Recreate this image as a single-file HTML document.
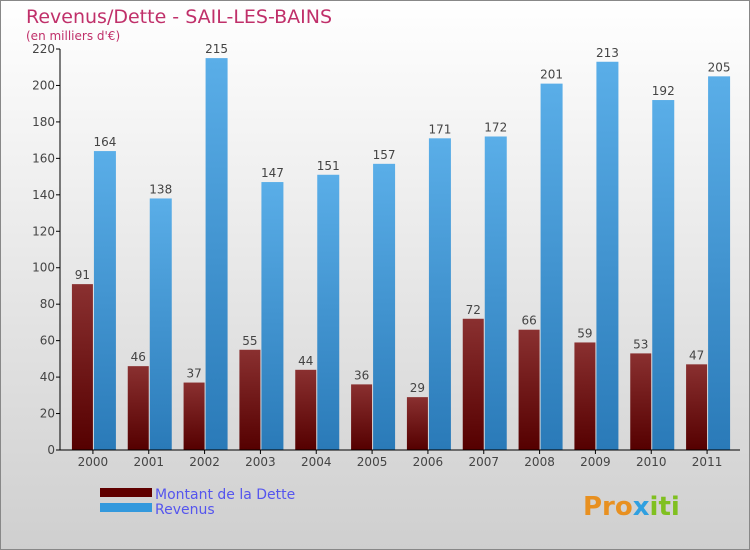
<!DOCTYPE html>
<html><head><meta charset="utf-8"><style>
body{margin:0;}
#wrap{width:750px;height:550px;position:relative;overflow:hidden;font-family:"DejaVu Sans","Liberation Sans",sans-serif;}
svg text{font-family:"DejaVu Sans","Liberation Sans",sans-serif;}
</style></head><body>
<div id="wrap">
<svg id="chart" width="750" height="550">
<defs>
<linearGradient id="bg" x1="0" y1="0" x2="0" y2="1"><stop offset="0" stop-color="#ffffff"/><stop offset="1" stop-color="#cfcfcf"/></linearGradient>
<linearGradient id="gd" x1="0" y1="0" x2="0" y2="1"><stop offset="0" stop-color="#8a3030"/><stop offset="1" stop-color="#550000"/></linearGradient>
<linearGradient id="gr" x1="0" y1="0" x2="0" y2="1"><stop offset="0" stop-color="#5aaee8"/><stop offset="1" stop-color="#2a7ab8"/></linearGradient>
</defs>
<rect x="0.5" y="0.5" width="749" height="549" fill="url(#bg)" stroke="#888"/>
<text x="26" y="23" font-size="19" fill="#c0306a">Revenus/Dette - SAIL-LES-BAINS</text>
<text x="26" y="40" font-size="12" fill="#c0306a">(en milliers d'€)</text>
<g id="bars"></g>
<g id="axes"></g>
<rect x="100" y="488" width="52" height="9" fill="#600000"/>
<rect x="100" y="503" width="52" height="9" fill="#3399dd"/>
<text x="155" y="499" font-size="14" fill="#5555ee">Montant de la Dette</text>
<text x="155" y="514" font-size="14" fill="#5555ee">Revenus</text>
<text x="583" y="515" font-size="26" font-weight="bold" fill="#e89020">Pro<tspan fill="#30a0e0">x</tspan><tspan fill="#80c020">iti</tspan></text>
</svg>
</div>
<script>
const years=["2000","2001","2002","2003","2004","2005","2006","2007","2008","2009","2010","2011"];
const dette=[91,46,37,55,44,36,29,72,66,59,53,47];
const revenus=[164,138,215,147,151,157,171,172,201,213,192,205];
const yTicks=[0,20,40,60,80,100,120,140,160,180,200,220];
const NS="http://www.w3.org/2000/svg";
const x0=60,x1=740,y0=450,yTop=49,yMax=220;
const y=v=>y0-(v/yMax)*(y0-yTop);
const step=(x1-x0-10)/years.length;
const cx=i=>x0+5+step*(i+0.5);
function mk(t,a,p){const e=document.createElementNS(NS,t);for(const k in a)e.setAttribute(k,a[k]);p.appendChild(e);return e;}
const bars=document.getElementById('bars'),axes=document.getElementById('axes');
years.forEach((yr,i)=>{
 const c=cx(i);
 let r=mk('rect',{x:c-21,y:y(dette[i]),width:21,height:y0-y(dette[i]),fill:'url(#gd)'},bars);
 
 
 let t=mk('text',{x:c-10.5,y:y(dette[i])-5,'font-size':12,fill:'#444','text-anchor':'middle'},bars);t.textContent=dette[i];
 
 
 r=mk('rect',{x:c+1,y:y(revenus[i]),width:22,height:y0-y(revenus[i]),fill:'url(#gr)'},bars);
 
 
 t=mk('text',{x:c+12,y:y(revenus[i])-5,'font-size':12,fill:'#444','text-anchor':'middle'},bars);t.textContent=revenus[i];
 
 
 t=mk('text',{x:c,y:466,'font-size':12,fill:'#444','text-anchor':'middle'},axes);t.textContent=yr;
 
 
 mk('line',{x1:c,x2:c,y1:y0,y2:y0+4,stroke:'#000'},axes);
});
yTicks.forEach(v=>{
 mk('line',{x1:x0-4,x2:x0,y1:y(v),y2:y(v),stroke:'#000'},axes);
 const t=mk('text',{x:x0-5,y:y(v)+4,'font-size':12,fill:'#444','text-anchor':'end'},axes);t.textContent=v;
 
 
});
let l=mk('line',{x1:x0,x2:x0,y1:yTop,y2:y0,stroke:'#000'},axes);


l=mk('line',{x1:x0,x2:x1,y1:y0,y2:y0,stroke:'#000'},axes);


</script>
</body></html>
